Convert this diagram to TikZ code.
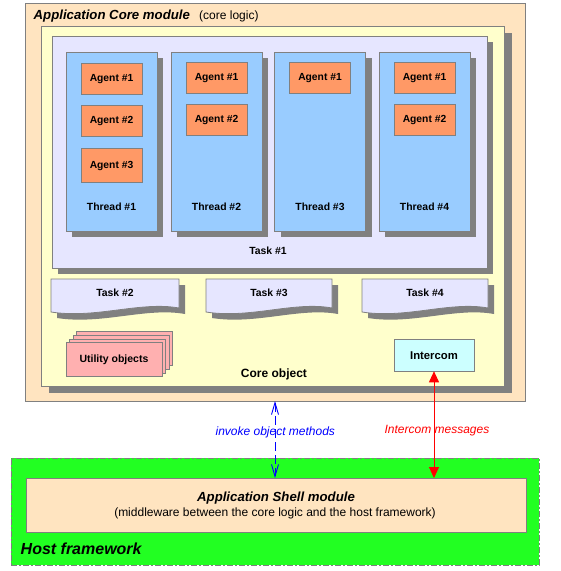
\documentclass[tikz,border=0pt]{standalone}
\usepackage{fontspec}
\setmainfont{Liberation Sans}
\usetikzlibrary{arrows.meta,shadows}
\definecolor{bord}{HTML}{808080}
\definecolor{shad}{HTML}{808080}
\definecolor{modc}{HTML}{FFE4C0}
\definecolor{corec}{HTML}{FFFFCC}
\definecolor{taskc}{HTML}{E6E6FF}
\definecolor{thrc}{HTML}{99CCFF}
\definecolor{agc}{HTML}{FF9966}
\definecolor{utc}{HTML}{FFB0B0}
\definecolor{icc}{HTML}{CCFFFF}
\definecolor{hostc}{HTML}{22FF22}
\newcommand{\fsz}[1]{\fontsize{#1}{#1}\selectfont}
\begin{document}
\begin{tikzpicture}[x=1pt,y=-1pt,
  rbox/.style={draw=bord, line width=0.8pt, anchor=north west, inner sep=0pt, outer sep=0pt},
  shadowsix/.style={drop shadow={shadow xshift=6pt, shadow yshift=-6pt, fill=shad, opacity=1}},
  shadoweight/.style={drop shadow={shadow xshift=8pt, shadow yshift=-7pt, fill=shad, opacity=1}},
  agentbox/.style={rbox, fill=agc, minimum width=61pt, minimum height=31pt, font=\fsz{10.3}\bfseries},
  threadbox/.style={rbox, fill=thrc, shadowsix, minimum width=91pt, minimum height=179pt},
  lbl/.style={inner sep=0pt, font=\fsz{10.4}\bfseries},
  docfill/.style={fill=taskc, draw=bord, line width=0.8pt},
  utilbox/.style={rbox, fill=utc, minimum width=96pt, minimum height=34pt},
  redarrow/.style={draw=red, line width=0.9pt, {Triangle[length=11pt,width=10pt]}-{Triangle[length=11pt,width=10pt]}},
  bluearrow/.style={draw=blue, line width=0.9pt, dash pattern=on 9pt off 4pt, {Straight Barb[length=12pt,width=7pt]}-{Straight Barb[length=12pt,width=7pt]}}
]
\useasboundingbox (0,0) rectangle (561,571);
\fill[white] (0,0) rectangle (561,571);

% Host framework and shell
\node[rbox, fill=hostc, dash pattern=on 6pt off 2pt on 2pt off 2pt, minimum width=528pt, minimum height=107pt] (host) at (11,458) {};
\node[rbox, fill=modc, minimum width=500pt, minimum height=54pt] (shell) at (26,478) {};
\node[inner sep=0pt, font=\fsz{13.2}\bfseries\itshape] (shelltitle) at (276,498) {Application Shell module};
\node[inner sep=0pt, font=\fsz{12}] (shellsub) at (275,513) {(middleware between the core logic and the host framework)};
\node[anchor=west, inner sep=0pt, font=\fsz{16}\bfseries\itshape] (hostlbl) at (20.5,548.5) {Host framework};

% Core module
\node[rbox, fill=modc, minimum width=500pt, minimum height=398pt] (coremod) at (25,3) {};
\node[anchor=west, inner sep=0pt, font=\fsz{13.2}\bfseries\itshape] (coretitle) at (33.5,16) {Application Core module};
\node[anchor=west, inner sep=0pt, font=\fsz{12}] (corelogic) at (199,16.5) {(core logic)};

% Core object
\node[rbox, fill=corec, shadoweight, minimum width=463pt, minimum height=360pt] (coreobj) at (41,26) {};
\node[lbl, font=\fsz{12}\bfseries] (coreobjlbl) at (274,374.5) {Core object};

% Task #1
\node[rbox, fill=taskc, shadowsix, minimum width=435pt, minimum height=232pt] (task1) at (52,36) {};
\node[lbl] (task1lbl) at (268,251) {Task \#1};

% Threads
\node[threadbox] (th1) at (66,52) {};
\node[threadbox] (th2) at (171,52) {};
\node[threadbox] (th3) at (274.5,52) {};
\node[threadbox] (th4) at (379,52) {};
\node[lbl] (th1lbl) at (111.5,207) {Thread \#1};
\node[lbl] (th2lbl) at (216.5,207) {Thread \#2};
\node[lbl] (th3lbl) at (320,207) {Thread \#3};
\node[lbl] (th4lbl) at (424.5,207) {Thread \#4};

% Agents
\node[agentbox] (a11) at (81,63.5) {Agent \#1};
\node[agentbox] (a12) at (81,105.5) {Agent \#2};
\node[agentbox, minimum height=34pt] (a13) at (81,148.5) {Agent \#3};
\node[agentbox] (a21) at (186,62.5) {Agent \#1};
\node[agentbox] (a22) at (186,104.5) {Agent \#2};
\node[agentbox] (a31) at (289.5,62.5) {Agent \#1};
\node[agentbox] (a41) at (394,62.5) {Agent \#1};
\node[agentbox] (a42) at (394,104.5) {Agent \#2};

% Tasks #2..#4 (document shapes)
\foreach \xa/\w in {51/128, 206/126, 362/126} {
  \begin{scope}[shift={(\xa+6,285)}]
    \fill[shad] (0,0) -- (\w,0) -- (\w,29) .. controls ({0.7*\w},22) and ({0.35*\w},40) .. (0,33) -- cycle;
  \end{scope}
  \begin{scope}[shift={(\xa,279)}]
    \path[docfill] (0,0) -- (\w,0) -- (\w,29) .. controls ({0.7*\w},22) and ({0.35*\w},40) .. (0,33) -- cycle;
  \end{scope}
}
\node[lbl] (task2lbl) at (115,293) {Task \#2};
\node[lbl] (task3lbl) at (269,293) {Task \#3};
\node[lbl] (task4lbl) at (425,293) {Task \#4};

% Utility objects
\node[utilbox] (util3) at (76.8,331.7) {};
\node[utilbox] (util2) at (73.2,335.3) {};
\node[utilbox] (util1) at (69.6,338.9) {};
\node[utilbox, font=\fsz{10.5}\bfseries] (util) at (66,342.5) {Utility objects};

% Intercom
\node[rbox, fill=icc, minimum width=80pt, minimum height=32pt, font=\fsz{11.3}\bfseries] (intercom) at (394,339.3) {Intercom};

% Connectors
\draw[redarrow] (intercom.south) -- (intercom.south |- shell.north);
\draw[bluearrow] (coremod.south) -- (coremod.south |- shell.north);
\node[inner sep=0pt, text=red, font=\fsz{12}\itshape] (icmsg) at (437,430.7) {Intercom messages};
\node[inner sep=0pt, text=blue, font=\fsz{12}\itshape] (invlbl) at (275.3,432.6) {invoke object methods};
\end{tikzpicture}
\end{document}
